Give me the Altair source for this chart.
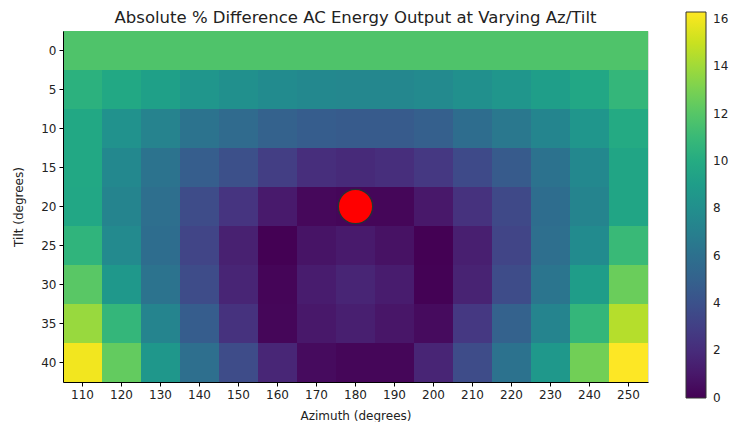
import altair as alt
import pandas as pd

azimuths = [110, 120, 130, 140, 150, 160, 170, 180, 190, 200, 210, 220, 230, 240, 250]
tilts = [0, 5, 10, 15, 20, 25, 30, 35, 40]

row_0 = [11.8] * 15
row_5 = [10.4, 9.8, 9.2, 8.5, 8.1, 7.8, 7.6, 7.5, 7.5, 7.7, 8.1, 8.5, 9.1, 9.7, 10.8]
row_10 = [9.8, 8.2, 7.2, 6.2, 5.6, 5.0, 4.7, 4.6, 4.6, 4.9, 5.8, 6.5, 7.4, 8.5, 9.9]
row_15 = [9.8, 7.6, 6.2, 4.8, 3.9, 2.9, 2.1, 1.9, 2.1, 2.6, 3.6, 4.6, 6.1, 7.6, 9.6]
row_20 = [9.7, 7.3, 5.9, 3.7, 2.4, 1.1, 0.3, 0.2, 0.2, 1.0, 2.3, 3.5, 5.8, 7.3, 9.6]
row_25 = [10.6, 7.7, 5.8, 3.3, 1.4, 0.0, 0.8, 1.1, 0.7, 0.0, 1.3, 3.3, 5.9, 7.8, 11.0]
row_30 = [12.1, 8.7, 6.2, 3.7, 1.6, 0.15, 1.2, 1.6, 1.2, 0.05, 1.5, 3.7, 6.3, 9.0, 12.6]
row_35 = [13.8, 10.8, 7.3, 4.7, 2.3, 0.2, 1.0, 1.3, 0.9, 0.4, 2.6, 5.0, 7.3, 10.8, 14.5]
row_40 = [16.0, 12.4, 8.6, 5.9, 3.7, 1.7, 0.4, 0.2, 0.2, 1.6, 3.7, 6.1, 8.7, 12.8, 16.3]
rows = [row_0, row_5, row_10, row_15, row_20, row_25, row_30, row_35, row_40]

best_az = [180]
best_tilt = [20]

cbar_ticks = [0, 2, 4, 6, 8, 10, 12, 14, 16]

records = []
for t, row in zip(tilts, rows):
    for a, v in zip(azimuths, row):
        records.append({"Azimuth": a, "Tilt": t, "Diff": v})
df = pd.DataFrame(records)
pt = pd.DataFrame({"Azimuth": best_az, "Tilt": best_tilt})

FONT = "DejaVu Sans"

x_enc = alt.X("Azimuth:O", sort=azimuths, scale=alt.Scale(paddingInner=0, paddingOuter=0),
              axis=alt.Axis(title="Azimuth (degrees)", labelAngle=0, labelFontSize=12,
                            titleFontSize=12, titleFontWeight="normal", tickSize=4,
                            tickColor="black", domainColor="black", labelColor="#222",
                            titleColor="#222", labelPadding=3, titlePadding=10))
y_enc = alt.Y("Tilt:O", sort=tilts, scale=alt.Scale(paddingInner=0, paddingOuter=0),
              axis=alt.Axis(title="Tilt (degrees)", labelFontSize=12, titleFontSize=12,
                            titleFontWeight="normal", tickSize=4, tickColor="black",
                            domainColor="black", labelColor="#222", titleColor="#222",
                            labelPadding=3, titlePadding=15))

cscale = alt.Scale(scheme="viridis", domain=[-0.01, 16.3], nice=False)

heat = alt.Chart(df).mark_rect().encode(
    x=x_enc,
    y=y_enc,
    color=alt.Color("Diff:Q", scale=cscale,
                    legend=alt.Legend(title=None, orient="none", legendX=623, legendY=-19,
                                      type="gradient", direction="vertical",
                                      gradientLength=386, gradientThickness=20,
                                      gradientStrokeColor="#333", gradientStrokeWidth=1,
                                      values=cbar_ticks, labelFontSize=12,
                                      labelBaseline="middle",
                                      labelColor="#222", labelOffset=7)),
)

dot = alt.Chart(pt).mark_point(filled=True, color="red", size=1180, opacity=1,
                               stroke="#223333", strokeWidth=1.3, shape="circle").encode(
    x=alt.X("Azimuth:O", sort=azimuths),
    y=alt.Y("Tilt:O", sort=tilts),
)

chart = alt.layer(heat, dot).properties(
    width=585,
    height=351,
    title=alt.Title("Absolute % Difference AC Energy Output at Varying Az/Tilt",
                    fontSize=16.5, fontWeight="normal", color="#222", offset=6,
                    anchor="middle", frame="group", dy=20),
    autosize=alt.AutoSizeParams(type="none"),
    padding={"left": 55, "top": 23, "right": 90, "bottom": 40},
).configure_view(stroke="black", strokeWidth=1).configure(font=FONT)

chart.save("out.html", embed_options={"renderer": "svg", "actions": False})
